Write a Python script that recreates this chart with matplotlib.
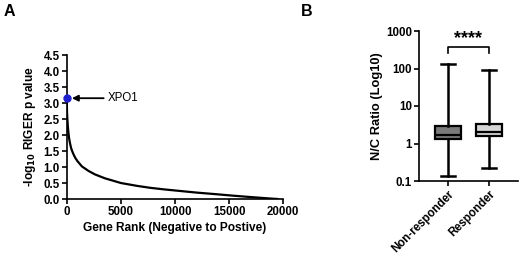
import matplotlib
matplotlib.use("Agg")
import matplotlib.pyplot as plt
import numpy as np

plt.rcParams['font.family'] = ['Liberation Sans', 'DejaVu Sans']
plt.rcParams['font.weight'] = 'bold'

# Panel A data
gene_rank = [0, 10, 30, 60, 100, 150, 220, 300, 400, 500, 650, 800, 1000, 1400,
             2000, 2600, 3500, 5000, 6500, 7700, 9000, 10800, 12000, 13800,
             15500, 17000, 18000, 19000, 19500]
neg_log_p = [3.15, 2.95, 2.7, 2.5, 2.3, 2.1, 1.9, 1.75, 1.6, 1.5, 1.38, 1.28, 1.18, 1.02,
             0.88, 0.77, 0.65, 0.50, 0.41, 0.35, 0.30, 0.24, 0.20, 0.15,
             0.10, 0.06, 0.035, 0.01, 0.0]
xpo1_rank = 0
xpo1_val = 3.15
a_xticks = [0, 5000, 10000, 15000, 20000]
a_yticks = [0.0, 0.5, 1.0, 1.5, 2.0, 2.5, 3.0, 3.5, 4.0, 4.5]

# Panel B data
groups = ["Non-responder", "Responder"]
whisk_lo = [0.135, 0.225]
q1 = [1.3, 1.6]
median = [1.72, 2.05]
q3 = [2.85, 3.35]
whisk_hi = [128, 92]
box_colors = ["#7a7a7a", "#d6d6d6"]
b_yticks = [0.1, 1, 10, 100, 1000]
b_yticklabels = ["0.1", "1", "10", "100", "1000"]

fig = plt.figure(figsize=(5.2, 2.58), dpi=100)

# ---------- Panel A ----------
axA = fig.add_axes([66.7/520, 1-199/258, (283.3-66.7)/520, (199-55)/258])
axA.plot(gene_rank, neg_log_p, color='black', lw=1.6, solid_capstyle='round')
axA.plot([xpo1_rank], [xpo1_val], 'o', color='#1f1fd0', ms=5, clip_on=False, zorder=5)
axA.annotate("XPO1", xy=(480, xpo1_val), xytext=(3800, xpo1_val),
             fontsize=8.3, fontweight='normal', va='center', ha='left',
             arrowprops=dict(arrowstyle='-|>', color='black', lw=1.3,
                             mutation_scale=9, shrinkA=1, shrinkB=0))
axA.set_xlim(0, 20000)
axA.set_ylim(0, 4.5)
axA.set_xticks(a_xticks)
axA.set_xticklabels([str(t) for t in a_xticks])
axA.set_yticks(a_yticks)
axA.set_yticklabels([f"{t:.1f}" for t in a_yticks])
for s in ['top', 'right']:
    axA.spines[s].set_visible(False)
for s in ['left', 'bottom']:
    axA.spines[s].set_linewidth(1.2)
axA.tick_params(width=1.2, length=3.5, labelsize=8.3, pad=1.5)
for lab in axA.get_xticklabels() + axA.get_yticklabels():
    lab.set_fontweight('bold')
axA.set_xlabel("Gene Rank (Negative to Postive)", fontsize=8.6, fontweight='bold', labelpad=3)
axA.set_ylabel("-log$_{\\mathbf{10}}$ RIGER p value", fontsize=8.6, fontweight='bold', labelpad=4)
fig.text(0.006, 0.985, "A", fontsize=11.5, fontweight='bold', va='top', ha='left')

# ---------- Panel B ----------
axB = fig.add_axes([419/520, 1-181/258, (518-419)/520, (181-31)/258])
stats = []
for i in range(len(groups)):
    stats.append(dict(med=median[i], q1=q1[i], q3=q3[i], whislo=whisk_lo[i],
                      whishi=whisk_hi[i], fliers=[], label=groups[i]))
pos = np.arange(len(groups))
bp = axB.bxp(stats, positions=pos, widths=0.62, capwidths=0.34, patch_artist=True,
             showfliers=False,
             boxprops=dict(lw=1.6, edgecolor='black'),
             whiskerprops=dict(lw=1.8, color='black'),
             capprops=dict(lw=1.8, color='black'),
             medianprops=dict(lw=1.6, color='black'))
for patch, c in zip(bp['boxes'], box_colors):
    patch.set_facecolor(c)
axB.set_yscale('log')
axB.set_ylim(0.1, 1000)
axB.set_xlim(-0.69, 1.69)
axB.set_yticks(b_yticks)
axB.set_yticklabels(b_yticklabels)
axB.minorticks_off()
axB.set_xticks(pos)
axB.set_xticklabels(groups, rotation=45, ha='right', rotation_mode='anchor')
for s in ['top', 'right']:
    axB.spines[s].set_visible(False)
for s in ['left', 'bottom']:
    axB.spines[s].set_linewidth(1.2)
axB.tick_params(width=1.2, length=3.5, labelsize=8.3, pad=1.5)
for lab in axB.get_xticklabels() + axB.get_yticklabels():
    lab.set_fontweight('bold')
axB.set_ylabel("N/C Ratio (Log10)", fontsize=9.3, fontweight='bold', labelpad=2)
# significance bracket
axB.plot([0, 0, 1, 1], [260, 385, 385, 260], color='black', lw=1.2, clip_on=False)
axB.text(0.5, 640, "****", ha='center', va='center', fontsize=13, fontweight='bold')
fig.text(0.578, 0.985, "B", fontsize=11.5, fontweight='bold', va='top', ha='left')

fig.savefig("out.png", dpi=100)
